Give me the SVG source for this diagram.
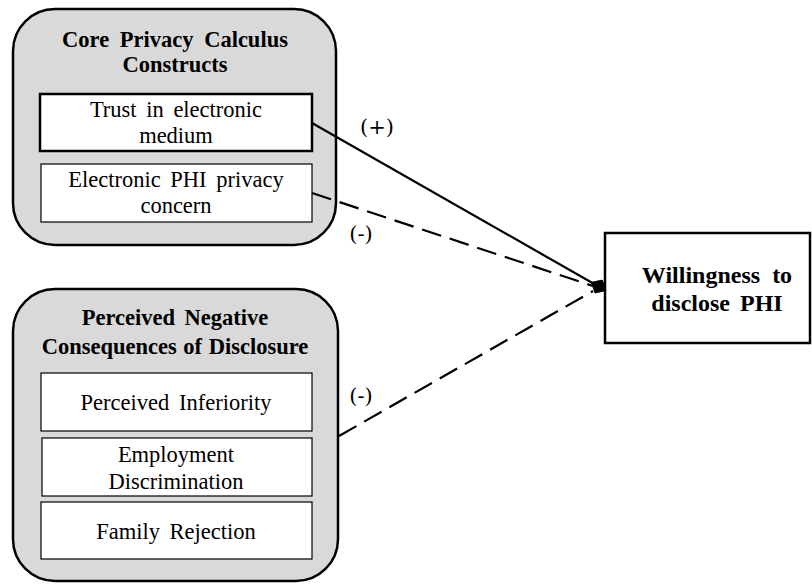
<svg xmlns="http://www.w3.org/2000/svg" width="812" height="584" viewBox="0 0 812 584">
<defs>
<style>
.grp{fill:#d9d9d9;stroke:#000;stroke-width:2.5}
.box{fill:#fff;stroke:#000;stroke-width:1.2}
.thick{fill:#fff;stroke:#000;stroke-width:2.5}
.t{font-family:"Liberation Serif","Times New Roman",serif;font-size:22.5px;text-anchor:middle;fill:#000;word-spacing:4px}
.b{font-weight:bold}
.lbl{font-family:"DejaVu Serif","Liberation Serif",serif;font-size:21px;text-anchor:middle;fill:#000}
.ln{stroke:#000;stroke-width:2.2;fill:none}
.dash{stroke-dasharray:20 9}
</style>
<marker id="dia" viewBox="0 0 18 16" refX="14" refY="8" markerWidth="18" markerHeight="16" markerUnits="userSpaceOnUse" orient="auto">
<path d="M0,8 L9,0 L18,8 L9,16 Z" fill="#000"/>
</marker>
</defs>
<g id="core-group">
<rect class="grp" x="13" y="9" width="323" height="236" rx="42"/>
<text class="t b" x="175" y="47" style="word-spacing:5px">Core Privacy Calculus</text>
<text class="t b" x="175" y="72">Constructs</text>
</g>
<g id="trust">
<rect class="thick" x="40" y="94" width="272" height="57"/>
<text class="t" x="176" y="117">Trust in electronic</text>
<text class="t" x="176" y="143">medium</text>
</g>
<g id="privacy-concern">
<rect class="box" x="41" y="164" width="271" height="58"/>
<text class="t" x="176" y="187">Electronic PHI privacy</text>
<text class="t" x="176" y="213">concern</text>
</g>
<g id="negative-group">
<rect class="grp" x="13" y="289" width="325" height="292" rx="42"/>
<text class="t b" x="175" y="325">Perceived Negative</text>
<text class="t b" x="175" y="354" style="word-spacing:1px">Consequences of Disclosure</text>
</g>
<g id="inferiority">
<rect class="box" x="41" y="373" width="271" height="58"/>
<text class="t" x="176" y="410">Perceived Inferiority</text>
</g>
<g id="employment">
<rect class="box" x="42" y="438" width="270" height="58"/>
<text class="t" x="176" y="462">Employment</text>
<text class="t" x="176" y="489">Discrimination</text>
</g>
<g id="family">
<rect class="box" x="41" y="502" width="271" height="57"/>
<text class="t" x="176" y="539">Family Rejection</text>
</g>
<g id="willingness">
<rect class="thick" x="605" y="233" width="205" height="110"/>
<text class="t b" x="717" y="283" style="font-size:24px;word-spacing:6px">Willingness to</text>
<text class="t b" x="717" y="311" style="font-size:24px">disclose PHI</text>
</g>
<g id="connectors">
<line class="ln" x1="312" y1="123" x2="603" y2="289" marker-end="url(#dia)"/>
<line class="ln dash" x1="312" y1="193" x2="593" y2="286"/>
<line class="ln dash" x1="339" y1="436" x2="593" y2="291"/>
<text class="lbl" x="377" y="134">(+)</text>
<text class="lbl" x="361" y="241">(-)</text>
<text class="lbl" x="361" y="403">(-)</text>
</g>
</svg>
